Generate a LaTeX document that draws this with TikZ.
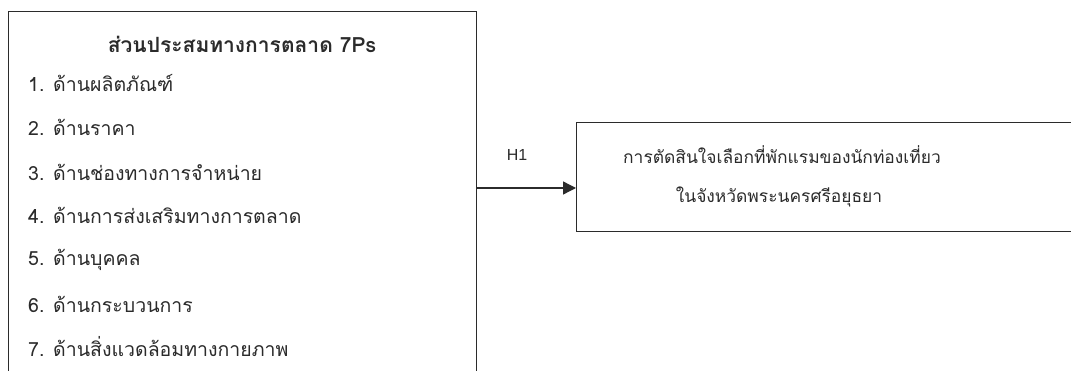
\documentclass[tikz,border=0pt]{standalone}
\usepackage{fontspec}
\setmainfont{Liberation Sans}
\newfontfamily\thaifont[Script=Thai]{Loma}
\usetikzlibrary{arrows.meta}
\definecolor{ink}{HTML}{2B2B2B}
\tikzset{
  frame/.style={draw=ink, line width=1.3pt, rectangle, inner sep=0pt, anchor=north west},
  itemtext/.style={anchor=west, inner sep=0pt, text=ink, font=\thaifont\fontsize{19.5}{22}\selectfont},
  label/.style={inner sep=0pt, text=ink, font=\thaifont\fontsize{17.4}{20}\selectfont},
  link/.style={draw=ink, line width=1.3pt, -{Triangle[length=13pt,width=13pt]}}
}
\begin{document}
\begin{tikzpicture}[x=1pt,y=-1pt]
  \clip (0,0) rectangle (1071,371);
  \fill[white] (0,0) rectangle (1071,371);
  % factor box (runs past the lower edge)
  \node[frame, minimum width=468pt, minimum height=420pt] (mix) at (8,11) {};
  \node[label, font=\thaifont\bfseries\fontsize{21}{24}\selectfont] (title) at (242,44) {ส่วนประสมทางการตลาด 7Ps};
  \node[itemtext] (p1) at (28,83)  {1. ด้านผลิตภัณฑ์};
  \node[itemtext] (p2) at (28,127) {2. ด้านราคา};
  \node[itemtext] (p3) at (28,172) {3. ด้านช่องทางการจำหน่าย};
  \node[itemtext] (p4) at (28,215) {4. ด้านการส่งเสริมทางการตลาด};
  \node[itemtext] (p5) at (28,260) {5. ด้านบุคคล};
  \node[itemtext] (p6) at (28,304) {6. ด้านกระบวนการ};
  \node[itemtext] (p7) at (28,347) {7. ด้านสิ่งแวดล้อมทางกายภาพ};
  % decision box (runs past the right edge)
  \node[frame, minimum width=520pt, minimum height=109pt] (dec) at (576,122) {};
  \node[label] (d1) at (782,155) {การตัดสินใจเลือกที่พักแรมของนักท่องเที่ยว};
  \node[label] (d2) at (779,197) {ในจังหวัดพระนครศรีอยุธยา};
  % hypothesis link
  \coordinate (lv) at (0,188);
  \draw[link] (mix.east |- lv) -- (dec.west |- lv);
  \node[label, font=\fontsize{16}{18}\selectfont] (h1) at (517,155) {H1};
\end{tikzpicture}
\end{document}
